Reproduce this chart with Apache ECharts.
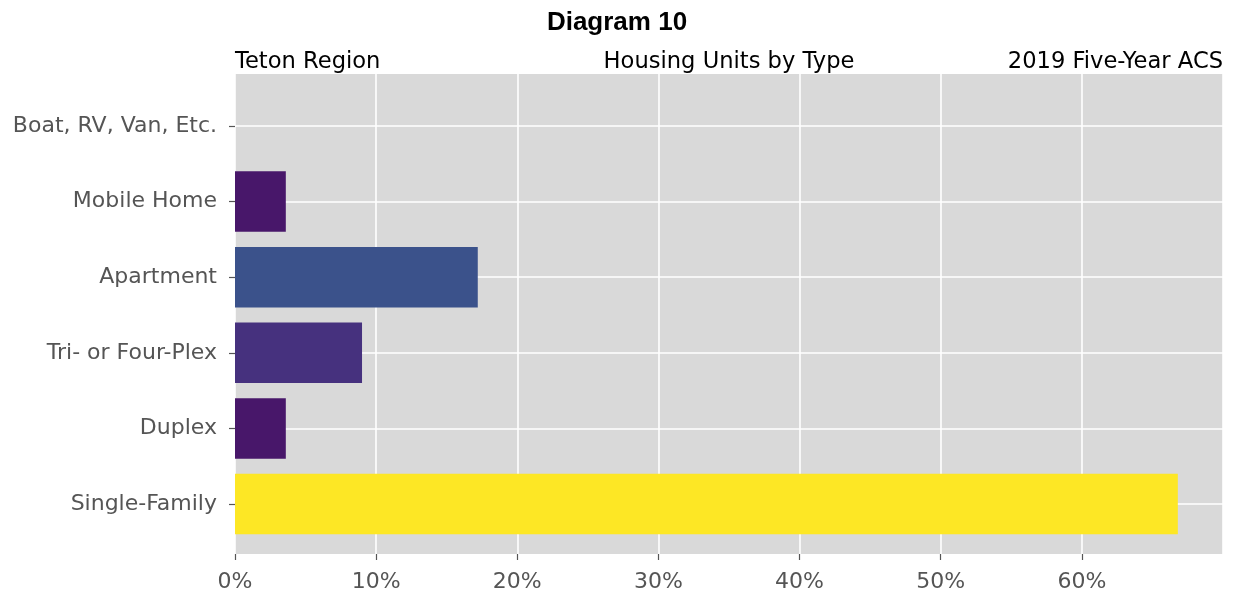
<!DOCTYPE html>
<html>
<head>
<meta charset="utf-8">
<script src="https://cdn.jsdelivr.net/npm/echarts@6/dist/echarts.min.js"></script>
<style>
html,body{margin:0;padding:0;background:#fff;}
#chart{width:1234px;height:595px;}
</style>
</head>
<body>
<div id="chart"></div>
<script>
// Data (bottom to top)
const categories = ['Single-Family', 'Duplex', 'Tri- or Four-Plex', 'Apartment', 'Mobile Home', 'Boat, RV, Van, Etc.'];
const shares = [66.8, 3.6, 9.0, 17.2, 3.6, 0];
const barColors = ['#fde725', '#48176a', '#46317e', '#3b528b', '#48176a', '#440154'];
const xTicks = [0, 10, 20, 30, 40, 50, 60, 70];
const titleText = 'Diagram 10';
const subLeft = 'Teton Region';
const subCenter = 'Housing Units by Type';
const subRight = '2019 Five-Year ACS';

const chart = echarts.init(document.getElementById('chart'), null, {renderer: 'canvas'});
const labelFont = 'DejaVu Sans';
const subFont = '22.6px "DejaVu Sans"';
const option = {
  animation: false,
  backgroundColor: '#ffffff',
  title: {
    text: titleText,
    left: 'center',
    top: 10,
    padding: 0,
    textStyle: {fontFamily: '"Liberation Sans", Arial, sans-serif', fontWeight: 'bold', fontSize: 26, color: '#000'}
  },
  graphic: [
    {type: 'text', left: 235, top: 50.5, style: {text: subLeft, font: subFont, fill: '#000'}},
    {type: 'text', x: 729, top: 50.5, style: {text: subCenter, font: subFont, fill: '#000', textAlign: 'center'}},
    {type: 'text', right: 11, top: 50.5, style: {text: subRight, font: subFont, fill: '#000'}}
  ],
  grid: [
    {left: 235, right: 11, top: 74, bottom: 41, show: true, backgroundColor: '#d9d9d9', borderWidth: 0},
    {left: 235, right: 11, top: 88.2, bottom: 53.2, show: false}
  ],
  xAxis: [
    {
      gridIndex: 0, type: 'value', min: xTicks[0], max: xTicks[xTicks.length - 1], interval: 10,
      offset: 2.5,
      axisLine: {show: false},
      axisTick: {show: true, length: 6, lineStyle: {color: '#555', width: 1.2}},
      axisLabel: {
        showMaxLabel: false, margin: 15,
        formatter: '{value}%', fontFamily: labelFont, fontSize: 22, color: '#555'
      },
      splitLine: {show: true, lineStyle: {color: '#ffffff', width: 1.6}}
    },
    {
      gridIndex: 1, type: 'value', min: xTicks[0], max: xTicks[xTicks.length - 1], show: false
    }
  ],
  yAxis: [
    {gridIndex: 0, type: 'value', show: false, splitLine: {show: false}},
    {
      gridIndex: 1, type: 'category', data: categories,
      offset: 2,
      axisLine: {show: false},
      axisTick: {show: true, alignWithLabel: true, length: 6, lineStyle: {color: '#555', width: 1.2}},
      axisLabel: {margin: 16, fontFamily: labelFont, fontSize: 22, color: '#555'},
      splitLine: {show: false}
    }
  ],
  series: [{
    type: 'bar',
    xAxisIndex: 1, yAxisIndex: 1,
    barWidth: '80%',
    z: 3,
    data: shares.map((v, i) => ({value: v, itemStyle: {color: barColors[i]}})),
    markLine: {
      silent: true,
      z: 1,
      symbol: ['none', 'none'],
      label: {show: false},
      lineStyle: {color: '#ffffff', width: 1.6, type: 'solid'},
      emphasis: {disabled: true},
      data: categories.map(c => ({yAxis: c}))
    }
  }]
};
chart.setOption(option);
</script>
</body>
</html>
